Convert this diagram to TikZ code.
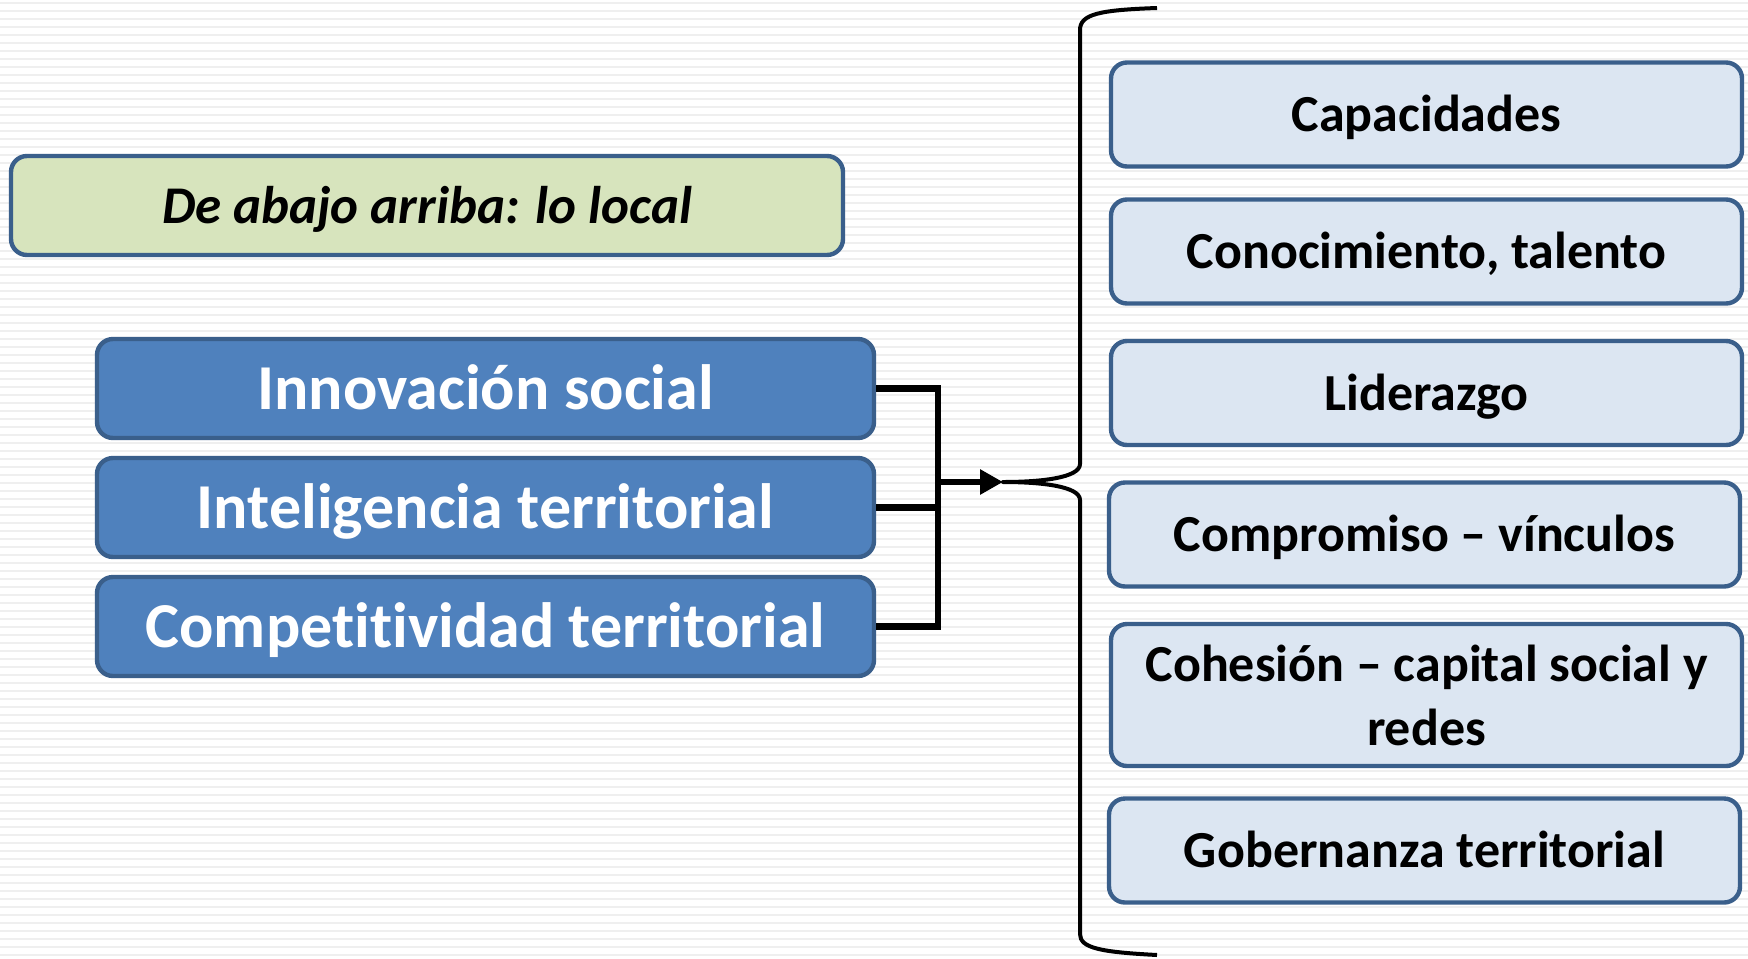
\documentclass[tikz,border=0pt]{standalone}
\usepackage{fontspec}
\setmainfont{Carlito}[RawFeature=-liga]
\usetikzlibrary{arrows.meta}
\definecolor{stripe}{HTML}{EFEFEF}
\definecolor{bord}{HTML}{3A5F8B}
\definecolor{bluefill}{HTML}{4F81BD}
\definecolor{lightfill}{HTML}{DCE6F2}
\definecolor{greenfill}{HTML}{D7E4BD}
\tikzset{
  boxbase/.style={draw=bord, line width=2.2pt, rounded corners=8pt, inner sep=0pt, align=center},
  greenbox/.style={boxbase, text height=22.8pt, text depth=5.3pt, fill=greenfill, minimum width=416pt, minimum height=49.5pt,
     font=\fontsize{26.5}{32}\selectfont\bfseries\itshape},
  bluebox/.style={boxbase, text height=27.5pt, text depth=6.4pt, fill=bluefill, minimum width=388.5pt, minimum height=49.5pt,
     text=white, font=\fontsize{32}{38}\selectfont\bfseries},
  lightbox/.style={boxbase, fill=lightfill, minimum width=315.5pt, minimum height=52pt,
     font=\fontsize{26}{32}\selectfont\bfseries},
  oneline/.style={text height=22.4pt, text depth=5.2pt},
  conn/.style={line width=3.3pt, line join=miter, line cap=butt},
  bracestyle/.style={line width=2pt, line join=round}
}
\begin{document}
\begin{tikzpicture}[x=0.5pt,y=-0.5pt]
\useasboundingbox (0,0) rectangle (1748,958);
\fill[white] (0,0) rectangle (1748,958);
\foreach \k in {0,...,119}{
  \fill[stripe] (0,{\k*8+2}) rectangle (1748,{\k*8+4});
}
% left boxes
\node[greenbox] (green) at (427,205.5) {De abajo arriba: lo local};
\node[bluebox] (inn) at (485.5,388.5) {Innovación social};
\node[bluebox] (intel) at (485.5,507.5) {Inteligencia territorial};
\node[bluebox] (comp) at (485.5,626.5) {Competitividad territorial};
% right boxes
\node[lightbox, oneline] (cap) at (1426.5,114.5) {Capacidades};
\node[lightbox, oneline] (cono) at (1426.5,251.5) {Conocimiento, talento};
\node[lightbox, oneline] (lid) at (1426.5,393) {Liderazgo};
\node[lightbox, oneline] (compr) at (1424.5,534.5) {Compromiso – vínculos};
\node[lightbox, minimum height=71pt] (cohe) at (1426.5,695) {Cohesión – capital social y\\redes};
\node[lightbox, oneline] (gob) at (1424.5,850.5) {Gobernanza territorial};
% connectors
\coordinate (j) at (938,507);
\coordinate (as) at (938,482);
\coordinate (tip) at (1003,482);
\draw[conn] (inn.east) -- (inn.east -| j) -- (comp.east -| j) -- (comp.east);
\draw[conn] (intel.east) -- (intel.east -| j);
\draw[conn, -{Triangle[length=11.5pt,width=12pt]}] (as) -- (tip);
% brace
\draw[bracestyle] (1157,8) .. controls (1100,10) and (1080,14) .. (1080,30)
  -- (1080,464) .. controls (1080,478) and (1040,482) .. (tip)
  .. controls (1040,482) and (1080,486) .. (1080,500)
  -- (1080,934) .. controls (1080,948) and (1100,952) .. (1157,955);
\end{tikzpicture}
\end{document}
